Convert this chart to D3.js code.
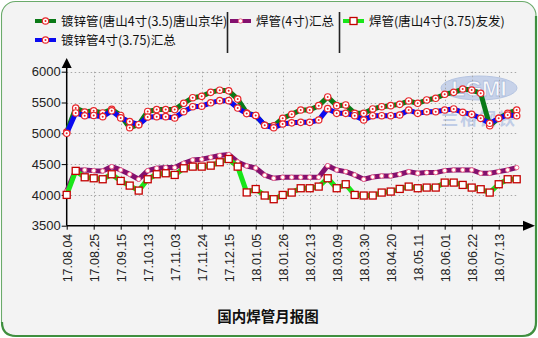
<!DOCTYPE html>
<html>
<head>
<meta charset="utf-8">
<script src="https://cdn.jsdelivr.net/npm/d3@7"></script>
<style>
  html, body { margin: 0; padding: 0; background: #ffffff; }
  svg { display: block; }
</style>
</head>
<body>
<svg id="chart" width="538" height="338"></svg>
<script>
// Weekly report dates (one point per week)
const dates = [
  "17.08.04","17.08.11","17.08.18","17.08.25","17.09.01","17.09.08","17.09.15","17.09.22","17.09.29",
  "17.10.13","17.10.20","17.10.27","17.11.03","17.11.10","17.11.17","17.11.24","17.12.01","17.12.08",
  "17.12.15","17.12.22","17.12.29","18.01.05","18.01.12","18.01.19","18.01.26","18.02.02","18.02.09",
  "18.02.13","18.02.23","18.03.02","18.03.09","18.03.16","18.03.23","18.03.30","18.04.06","18.04.13",
  "18.04.20","18.04.27","18.05.04","18.05.11","18.05.18","18.05.25","18.06.01","18.06.08","18.06.15",
  "18.06.22","18.06.29","18.07.06","18.07.13","18.07.20","18.07.27"
];

// Axis tick labels
const tickLabels = ["17.08.04","17.08.25","17.09.15","17.10.13","17.11.03","17.11.24","17.12.15",
  "18.01.05","18.01.26","18.02.13","18.03.09","18.03.30","18.04.20","18.05.11","18.06.01","18.06.22","18.07.13"];
const yTicks = [3500, 4000, 4500, 5000, 5500, 6000];

// Series values (yuan/ton)
const galvTangshan = [5020,5410,5345,5365,5330,5390,5290,5090,5140,5355,5385,5385,5385,5487,5578,5600,5665,5700,
  5690,5555,5330,5290,5130,5120,5243,5308,5378,5378,5449,5590,5449,5460,5324,5324,5395,5432,
  5449,5470,5525,5487,5541,5568,5633,5665,5719,5703,5649,5124,5243,5324,5378];
const weldedSummary = [4060,4400,4405,4394,4389,4459,4405,4335,4254,4394,4432,4443,4443,4513,4567,4578,4610,4640,
  4655,4535,4470,4437,4320,4270,4286,4286,4286,4286,4286,4475,4405,4378,4324,4254,4290,4308,
  4308,4335,4378,4351,4362,4362,4394,4405,4405,4405,4351,4351,4378,4405,4443];
const weldedTangshan = [4000,4390,4286,4270,4254,4335,4227,4151,4070,4254,4335,4351,4324,4432,4459,4459,4475,4530,
  4583,4459,4040,4095,3990,3930,3999,4038,4108,4108,4135,4270,4108,4173,3999,3990,3990,4038,
  4054,4097,4135,4108,4119,4119,4200,4200,4162,4119,4092,4038,4173,4254,4254];
const galvSummary = [5000,5330,5285,5290,5270,5365,5250,5190,5140,5265,5270,5270,5250,5351,5432,5440,5495,5530,
  5530,5410,5320,5290,5130,5090,5151,5170,5178,5178,5216,5400,5324,5324,5286,5216,5286,5286,
  5286,5297,5378,5324,5351,5351,5378,5395,5340,5308,5243,5162,5243,5297,5286];

const seriesNames = ["镀锌管(唐山4寸(3.5)唐山京华)", "焊管(4寸)汇总", "焊管(唐山4寸(3.75)友发)", "镀锌管4寸(3.75)汇总"];
const seriesColors = ["#0b7a17", "#84106e", "#19e619", "#0a0af0"];
const seriesMarkers = ["circle", "dot", "square", "circle"];
const seriesValues = [galvTangshan, weldedSummary, weldedTangshan, galvSummary];
const chartTitle = "国内焊管月报图";

const svg = d3.select("#chart");
const W = 538, H = 338;

// Panel background with rounded green frame
svg.append("rect").attr("x", 0).attr("y", 0).attr("width", W).attr("height", H).attr("fill", "#ffffff");
svg.append("rect").attr("x", 1.5).attr("y", 1.5).attr("width", W - 3.5).attr("height", H - 3.5)
  .attr("rx", 14).attr("fill", "#f3f3f3").attr("stroke", "#6aaa6a").attr("stroke-width", 1.1);
svg.append("path")
  .attr("d", `M${W - 2},16 L${W - 2},${H - 16} Q${W - 2},${H - 2} ${W - 16},${H - 2} L16,${H - 2} Q2,${H - 2} 2,${H - 16}`)
  .attr("fill", "none").attr("stroke", "#3f8f3f").attr("stroke-width", 2.2);

const x = d3.scalePoint().domain(dates).range([66.7, 516.7]);
const y = d3.scaleLinear().domain([3500, 6000]).range([225.7, 71.7]);
const x0 = 66.7, xEnd = 516.7, yBase = y(3500);

// Watermark logo
const logo = svg.append("g").attr("opacity", 0.6);
logo.append("ellipse").attr("cx", 479).attr("cy", 88).attr("rx", 38).attr("ry", 12)
  .attr("fill", "#aabde4").attr("stroke", "#8ea6d6").attr("stroke-width", 1);
logo.append("text").attr("x", 479).attr("y", 96).attr("text-anchor", "middle")
  .attr("font-family", "Liberation Sans, Arial, sans-serif").attr("font-size", 22).attr("font-weight", "bold")
  .attr("fill", "#ffffff").attr("stroke", "#7f9ad0").attr("stroke-width", 0.8).text("LGMI");
logo.append("text").attr("x", 479).attr("y", 125).attr("text-anchor", "middle")
  .attr("font-family", "Noto Sans CJK SC, sans-serif").attr("font-size", 17).attr("font-weight", "bold")
  .attr("letter-spacing", 2).attr("fill", "#9fb4de").text("兰格钢铁");

// Grid
const grid = svg.append("g").attr("stroke", "#a8a8a8").attr("stroke-width", 1).attr("stroke-dasharray", "1.5,2.5");
yTicks.filter(v => v > 3500).forEach(v => {
  grid.append("line").attr("x1", x0).attr("x2", xEnd + 1).attr("y1", Math.round(y(v)) + 0.5).attr("y2", Math.round(y(v)) + 0.5);
});
tickLabels.slice(1).forEach(d => {
  grid.append("line").attr("x1", Math.round(x(d)) + 0.5).attr("x2", Math.round(x(d)) + 0.5)
    .attr("y1", y(6000)).attr("y2", yBase);
});

// Axes
const yAxis = d3.axisLeft(y).tickValues(yTicks).tickSize(5).tickPadding(1).tickFormat(d3.format("d"));
const gy = svg.append("g").attr("transform", `translate(${x0},0)`).call(yAxis);
gy.select(".domain").remove();
gy.selectAll("line").attr("stroke", "#000");
gy.selectAll("text").attr("font-family", "Liberation Sans, Arial, sans-serif").attr("font-size", 13).attr("fill", "#222");

const xAxis = d3.axisBottom(x).tickValues(tickLabels).tickSize(4).tickPadding(3);
const gx = svg.append("g").attr("transform", `translate(0,${yBase})`).call(xAxis);
gx.select(".domain").remove();
gx.selectAll("line").attr("stroke", "#000");
gx.selectAll("text")
  .attr("font-family", "Liberation Sans, Arial, sans-serif").attr("font-size", 12.5).attr("fill", "#222")
  .attr("text-anchor", "end").attr("transform", "rotate(-90)")
  .attr("x", -8).attr("y", 0).attr("dy", "0.35em");

// Axis lines with arrows
svg.append("line").attr("x1", x0).attr("x2", x0).attr("y1", yBase).attr("y2", 64).attr("stroke", "#000").attr("stroke-width", 1.5);
svg.append("path").attr("d", `M${x0 - 5},68 L${x0},58 L${x0 + 5},68 Z`).attr("fill", "#000");
svg.append("line").attr("x1", x0).attr("x2", 526).attr("y1", yBase).attr("y2", yBase).attr("stroke", "#000").attr("stroke-width", 1.5);
svg.append("path").attr("d", `M523,${yBase - 5} L535,${yBase} L523,${yBase + 5} Z`).attr("fill", "#000");

// Lines and markers
const line = d3.line().x((d, i) => x(dates[i])).y(d => y(d));

function drawMarker(g, kind, cx, cy) {
  if (kind === "circle") {
    g.append("circle").attr("cx", cx).attr("cy", cy).attr("r", 3.2)
      .attr("fill", "#ffffff").attr("stroke", "#e8262a").attr("stroke-width", 1.2);
    g.append("circle").attr("cx", cx).attr("cy", cy).attr("r", 1).attr("fill", "#e8262a");
  } else if (kind === "dot") {
    g.append("circle").attr("cx", cx).attr("cy", cy).attr("r", 2.2)
      .attr("fill", "#ffffff").attr("stroke", "#f06a8a").attr("stroke-width", 1);
  } else {
    g.append("rect").attr("x", cx - 3.5).attr("y", cy - 3.5).attr("width", 7).attr("height", 7)
      .attr("fill", "#ffffff").attr("stroke", "#c40000").attr("stroke-width", 1.3);
  }
}

seriesValues.forEach((vals, k) => {
  const g = svg.append("g");
  g.append("path").datum(vals).attr("d", line).attr("fill", "none")
    .attr("stroke", seriesColors[k]).attr("stroke-width", 5).attr("stroke-linejoin", "round");
  vals.forEach((v, i) => drawMarker(g, seriesMarkers[k], x(dates[i]), y(v)));
});

// Legend
const legendItems = [
  { k: 0, lx: 35, ly: 21, tx: 61 },
  { k: 1, lx: 230, ly: 21, tx: 256 },
  { k: 2, lx: 343, ly: 21, tx: 369 },
  { k: 3, lx: 35, ly: 40, tx: 61 }
];
const legend = svg.append("g");
legendItems.forEach(it => {
  legend.append("line").attr("x1", it.lx).attr("x2", it.lx + 21).attr("y1", it.ly).attr("y2", it.ly)
    .attr("stroke", seriesColors[it.k]).attr("stroke-width", 4);
  drawMarker(legend, seriesMarkers[it.k], it.lx + 10.5, it.ly);
  legend.append("text").attr("x", it.tx).attr("y", it.ly).attr("dy", "0.36em")
    .attr("font-family", "Noto Sans CJK SC, sans-serif").attr("font-size", 12.5).attr("fill", "#111")
    .text(seriesNames[it.k]);
});
[227.5, 339.5].forEach(sx => {
  legend.append("line").attr("x1", sx).attr("x2", sx).attr("y1", 12).attr("y2", 53)
    .attr("stroke", "#222").attr("stroke-width", 1.6);
});

// Title
svg.append("text").attr("x", 268).attr("y", 317).attr("dy", "0.35em").attr("text-anchor", "middle")
  .attr("font-family", "Noto Sans CJK SC, sans-serif").attr("font-size", 14.5).attr("font-weight", "bold")
  .attr("fill", "#111").text(chartTitle);
</script>
</body>
</html>
